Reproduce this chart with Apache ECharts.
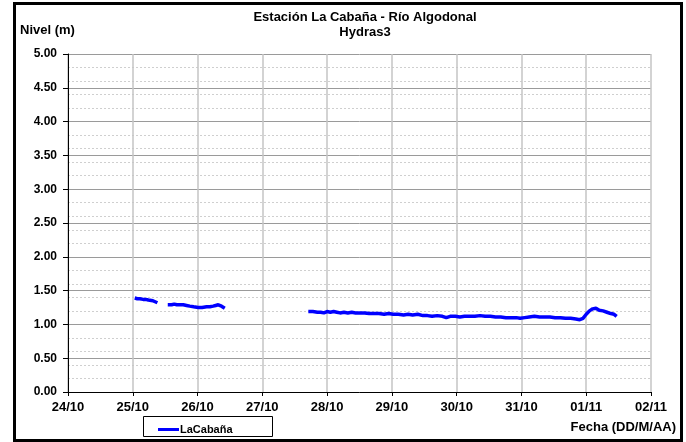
<!DOCTYPE html>
<html>
<head>
<meta charset="utf-8">
<script src="https://cdn.jsdelivr.net/npm/echarts@6/dist/echarts.min.js"></script>
<style>
  html, body { margin: 0; padding: 0; background: #fff; }
  #chart { width: 686px; height: 442px; }
</style>
</head>
<body>
<div id="chart"></div>
<script>
// Tick labels of the date axis (one per day, starting 24/10 at 0:00)
const dayLabels = ['24/10', '25/10', '26/10', '27/10', '28/10', '29/10', '30/10', '31/10', '01/11', '02/11'];

// Water level readings: [days since 24/10 00:00, level in m]; gaps split the record
const levelsPart1 = [
  [1.03, 1.39], [1.07, 1.38], [1.11, 1.38], [1.16, 1.37], [1.20, 1.37], [1.24, 1.36],
  [1.27, 1.35], [1.31, 1.35], [1.34, 1.34], [1.38, 1.32]
];
const levelsPart2 = [
  [1.54, 1.29], [1.57, 1.30], [1.60, 1.29], [1.64, 1.30], [1.68, 1.29], [1.73, 1.29],
  [1.78, 1.29], [1.83, 1.28], [1.88, 1.27], [1.94, 1.26], [2.01, 1.25], [2.07, 1.25],
  [2.14, 1.26], [2.19, 1.26], [2.24, 1.27], [2.28, 1.28], [2.32, 1.29], [2.37, 1.27],
  [2.42, 1.24]
];
const levelsPart3 = [
  [3.71, 1.19], [3.78, 1.19], [3.85, 1.18], [3.90, 1.18], [3.95, 1.17], [4.00, 1.19],
  [4.05, 1.18], [4.10, 1.19], [4.15, 1.18], [4.20, 1.17], [4.26, 1.18], [4.32, 1.17],
  [4.38, 1.18], [4.44, 1.17], [4.50, 1.17], [4.58, 1.17], [4.65, 1.16], [4.72, 1.16],
  [4.80, 1.16], [4.88, 1.15], [4.95, 1.16], [5.02, 1.15], [5.10, 1.15], [5.18, 1.14],
  [5.25, 1.15], [5.32, 1.14], [5.40, 1.15], [5.48, 1.13], [5.55, 1.13], [5.62, 1.12],
  [5.70, 1.13], [5.78, 1.12], [5.84, 1.10], [5.90, 1.12], [5.98, 1.12], [6.05, 1.11],
  [6.12, 1.12], [6.20, 1.12], [6.28, 1.12], [6.36, 1.13], [6.44, 1.12], [6.52, 1.12],
  [6.60, 1.11], [6.68, 1.11], [6.76, 1.10], [6.84, 1.10], [6.92, 1.10], [6.98, 1.09],
  [7.05, 1.10], [7.12, 1.11], [7.20, 1.12], [7.28, 1.11], [7.36, 1.11], [7.44, 1.11],
  [7.52, 1.10], [7.60, 1.10], [7.68, 1.09], [7.76, 1.09], [7.84, 1.08], [7.90, 1.07],
  [7.95, 1.09], [8.00, 1.15], [8.05, 1.20], [8.10, 1.23], [8.15, 1.24], [8.20, 1.21],
  [8.26, 1.20], [8.32, 1.18], [8.38, 1.16], [8.43, 1.15], [8.47, 1.12]
];

const seriesName = 'LaCabaña';
const titleLines = ['Estación La Cabaña - Río Algodonal', 'Hydras3'];
const yAxisName = 'Nivel (m)';
const xAxisName = 'Fecha (DD/M/AA)';

// Join the record pieces with nulls so the line breaks where data is missing
const levels = [].concat(levelsPart1, [[1.46, null]], levelsPart2, [[3.0, null]], levelsPart3);

const font = 'Arial, "Liberation Sans", sans-serif';
const chart = echarts.init(document.getElementById('chart'), null, { renderer: 'canvas' });

chart.setOption({
  animation: false,
  backgroundColor: '#ffffff',
  textStyle: { fontFamily: font },
  title: {
    text: titleLines.join('\n'),
    left: 360, top: 5, textAlign: 'center',
    textStyle: { fontSize: 13, fontWeight: 'bold', color: '#000', lineHeight: 15, fontFamily: font }
  },
  grid: { left: 68, right: 35, top: 54, bottom: 50, containLabel: false },
  legend: {
    data: [seriesName],
    left: 153, top: 419,
    icon: 'rect', itemWidth: 21, itemHeight: 3, itemGap: 0,
    textStyle: { fontSize: 11, fontWeight: 'bold', color: '#000', fontFamily: font, padding: [0, 0, 0, -4] }
  },
  xAxis: {
    type: 'value', min: 0, max: 9, interval: 1,
    axisLine: { lineStyle: { color: '#000', width: 1 } },
    axisTick: { show: true, inside: false, length: 4, lineStyle: { color: '#000' } },
    axisLabel: {
      margin: 9, fontSize: 13, fontWeight: 'bold', color: '#000', fontFamily: font,
      formatter: v => dayLabels[Math.round(v)]
    },
    splitLine: { show: true, lineStyle: { color: '#c4c4c4', width: 1.5 } }
  },
  yAxis: [
    {
      type: 'value', min: 0, max: 5, interval: 0.5, position: 'left',
      axisLine: { show: true, lineStyle: { color: '#000', width: 1 } },
      axisTick: { show: true, inside: false, length: 5, lineStyle: { color: '#000' } },
      axisLabel: {
        margin: 11, fontSize: 12, fontWeight: 'bold', color: '#000', fontFamily: font,
        formatter: v => v.toFixed(2)
      },
      splitLine: { show: true, lineStyle: { color: '#9a9a9a', width: 1 } }
    },
    {
      // finer dashed grid every 0.2 m; lines on whole metres are left to the main grid
      type: 'value', min: 0, max: 5, interval: 0.2, position: 'left',
      axisLine: { show: false }, axisTick: { show: false }, axisLabel: { show: false },
      splitLine: {
        show: true,
        lineStyle: { color: ['rgba(0,0,0,0)', '#cfcfcf', '#cfcfcf', '#cfcfcf', '#cfcfcf'], type: [2, 2], width: 1 }
      }
    }
  ],
  series: [{
    name: seriesName,
    type: 'line',
    yAxisIndex: 0,
    data: levels,
    connectNulls: false,
    showSymbol: false,
    smooth: false,
    lineStyle: { color: '#0000ff', width: 3.5 },
    itemStyle: { color: '#0000ff' },
    z: 5
  }],
  graphic: [
    { type: 'rect', shape: { x: 14.5, y: 3.5, width: 667, height: 437 },
      style: { fill: 'none', stroke: '#000', lineWidth: 3 }, silent: true },
    { type: 'rect', shape: { x: 143.5, y: 416.5, width: 129, height: 20 },
      style: { fill: 'none', stroke: '#000', lineWidth: 1 }, silent: true },
    { type: 'text', left: 20, top: 24,
      style: { text: yAxisName, font: 'bold 13px ' + font, fill: '#000' } },
    { type: 'text', right: 10, top: 421,
      style: { text: xAxisName, font: 'bold 13px ' + font, fill: '#000' } }
  ]
});
</script>
</body>
</html>
